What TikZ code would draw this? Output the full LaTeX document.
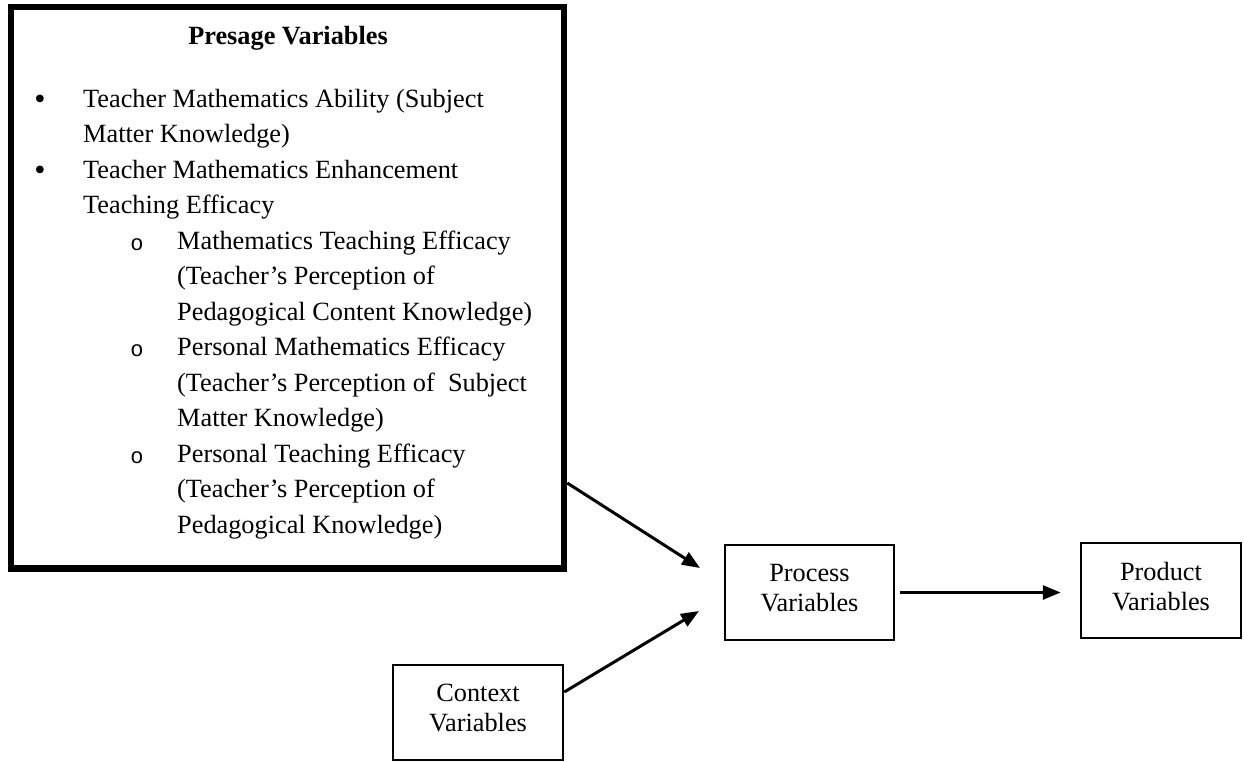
\documentclass[tikz,border=0pt]{standalone}
\usepackage{fontspec}
\setmainfont{Liberation Serif}
\newfontfamily\submark{Liberation Mono}
\usetikzlibrary{arrows.meta}
\begin{document}
\begin{tikzpicture}[x=1pt,y=-1pt,
  box/.style={draw, line width=2.5pt, inner sep=0pt, align=center, font=\fontsize{26.3}{30}\selectfont},
  txt/.style={anchor=base west, inner sep=0pt, font=\fontsize{26.3}{30}\selectfont},
  bul/.style={anchor=base, inner sep=0pt, font=\fontsize{32}{34}\selectfont},
  submk/.style={anchor=base, inner sep=0pt, font=\submark\fontsize{22}{24}\selectfont},
  arr/.style={line width=3pt, -{Triangle[length=18pt,width=14pt]}}]
\useasboundingbox (0,0) rectangle (1244,761);
% presage box
\node[draw, line width=6.5pt, minimum width=553pt, minimum height=561.5pt, inner sep=0pt] (presage) at (287.5,287.75) {};
\node[anchor=base, inner sep=0pt, font=\fontsize{26.3}{30}\selectfont\bfseries] (title) at (288,44) {Presage Variables};
% bullets
\node[bul] (b0) at (40,109) {•};
\node[bul] (b2) at (40,180) {•};
\node[submk] (s4) at (137,250) {o};
\node[submk] (s7) at (137,356.5) {o};
\node[submk] (s10) at (137,463) {o};
% lines
\node[txt] (t0) at (83,107) {Teacher Mathematics Ability (Subject};
\node[txt] (t1) at (83,142.5) {Matter Knowledge)};
\node[txt] (t2) at (83,178) {Teacher Mathematics Enhancement};
\node[txt] (t3) at (83,213.5) {Teaching Efficacy};
\node[txt] (t4) at (177,249) {Mathematics Teaching Efficacy};
\node[txt] (t5) at (177,284.5) {(Teacher’s Perception of};
\node[txt] (t6) at (177,320) {Pedagogical Content Knowledge)};
\node[txt] (t7) at (177,355.5) {Personal Mathematics Efficacy};
\node[txt] (t8) at (177,391) {(Teacher’s Perception of\ \ Subject};
\node[txt] (t9) at (177,426.5) {Matter Knowledge)};
\node[txt] (t10) at (177,462) {Personal Teaching Efficacy};
\node[txt] (t11) at (177,497.5) {(Teacher’s Perception of};
\node[txt] (t12) at (177,533) {Pedagogical Knowledge)};
% other boxes
\node[box, minimum width=169pt, minimum height=95pt] (process) at (809.5,592.5) {Process\\Variables\strut};
\node[box, minimum width=160pt, minimum height=95pt] (product) at (1161,590.5) {Product\\Variables\strut};
\node[box, minimum width=170pt, minimum height=95pt] (context) at (478,712.5) {Context\\Variables\strut};
% connectors
\coordinate (pa) at (567,483);
\coordinate (pt) at (700,568);
\coordinate (ca) at (563,692);
\coordinate (ct) at (699,611);
\draw[arr] (presage.east |- pa) -- (pt);
\draw[arr] (context.east |- ca) -- (ct);
\draw[arr, shorten <=5pt, shorten >=19pt] (process.east) -- (product.west |- process.east);
\end{tikzpicture}
\end{document}
